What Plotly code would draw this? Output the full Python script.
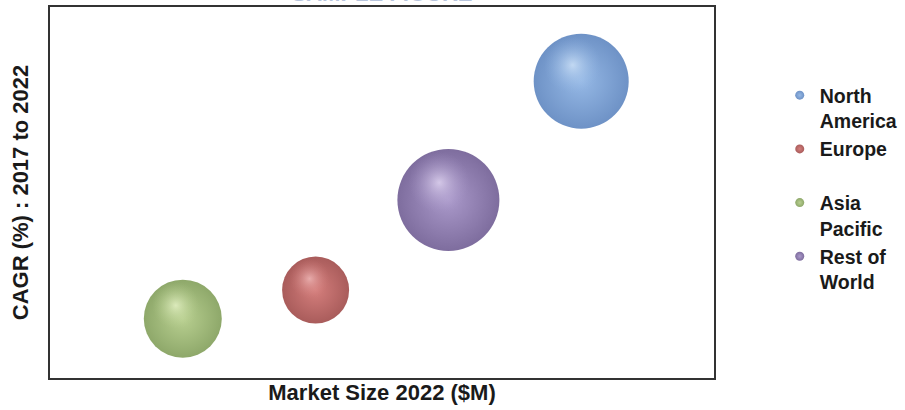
import plotly.graph_objects as go

# ---- data (axes carry no tick labels) ----
regions = ["North America", "Europe", "Asia Pacific", "Rest of World"]
legend_labels = ["<b>North<br>America</b>", "<b>Europe<br>\u00a0</b>",
                 "<b>Asia<br>Pacific</b>", "<b>Rest of<br>World</b>"]
market_size = [80, 40, 20, 60]          # x position (arbitrary units 0-100)
cagr = [80, 23.7, 16, 48]               # y position (arbitrary units 0-100)
bubble_size = [95, 67, 78, 102]         # bubble diameter (px)

# ---- styles ----
mid_colors = ["#95b8e5", "#d47e7c", "#b8cf90", "#aa99ca"]
edge_colors = ["#6e92c6", "#a95c5b", "#8ea86a", "#7e6d9e"]
hi_colors = ["rgba(224,240,255,0.95)", "rgba(252,206,206,0.9)",
             "rgba(245,255,216,0.95)", "rgba(242,232,255,0.95)"]
hi_fade = ["rgba(149,184,229,0)", "rgba(212,126,124,0)",
           "rgba(184,207,144,0)", "rgba(170,153,202,0)"]

X_RANGE = [0, 100]
Y_RANGE = [0, 100]
W, H = 905, 410
M = dict(l=50, r=191, t=7, b=32, autoexpand=False)
plot_w = W - M["l"] - M["r"]
plot_h = H - M["t"] - M["b"]

fig = go.Figure()

# sphere body
fig.add_trace(go.Scatter(
    x=market_size, y=cagr, mode="markers", showlegend=False,
    hoverinfo="text", text=regions,
    marker=dict(size=bubble_size, sizemode="diameter", color=edge_colors,
                gradient=dict(type="radial", color=mid_colors),
                line=dict(width=0), opacity=1),
))

# specular highlight, offset up-left in pixel terms
hx = [x - 0.09 * s * (X_RANGE[1] - X_RANGE[0]) / plot_w for x, s in zip(market_size, bubble_size)]
hy = [y + 0.17 * s * (Y_RANGE[1] - Y_RANGE[0]) / plot_h for y, s in zip(cagr, bubble_size)]
fig.add_trace(go.Scatter(
    x=hx, y=hy, mode="markers", showlegend=False, hoverinfo="skip",
    marker=dict(size=[0.6 * s for s in bubble_size], color=hi_fade,
                gradient=dict(type="radial", color=hi_colors),
                line=dict(width=0)),
))

# legend entries
for name, lab, mc, ec in zip(regions, legend_labels, mid_colors, edge_colors):
    fig.add_trace(go.Scatter(
        x=[None], y=[None], mode="markers", name=lab, legendgroup=name,
        marker=dict(size=9, color=ec, gradient=dict(type="radial", color=mc),
                    line=dict(width=0)),
    ))

font_family = "Arial, Liberation Sans, sans-serif"
fig.update_layout(
    width=W, height=H, margin=M,
    paper_bgcolor="white", plot_bgcolor="white",
    font=dict(family=font_family, color="#1a1a1a"),
    title=dict(text="<b>SAMPLE FIGURE</b>", x=(M["l"] + plot_w / 2) / W, xanchor="center",
               yref="container", y=1 - 1 / H, yanchor="bottom",
               font=dict(size=22, color="#b7c4dc", family=font_family)),
    xaxis=dict(range=X_RANGE, showgrid=False, zeroline=False, showticklabels=False,
               ticks="", showline=True, mirror=True, linecolor="#333333", linewidth=2,
               title=dict(text="<b>Market Size 2022 ($M)</b>", standoff=6,
                          font=dict(size=22, color="#1a1a1a"))),
    yaxis=dict(range=Y_RANGE, showgrid=False, zeroline=False, showticklabels=False,
               ticks="", showline=True, mirror=True, linecolor="#333333", linewidth=2,
               title=dict(text="\u00a0\u00a0\u00a0<b>CAGR (%) : 2017 to 2022</b>", standoff=13,
                          font=dict(size=22, color="#1a1a1a"))),
    legend=dict(x=1.099, xanchor="left", y=0.814, yanchor="top", valign="top",
                font=dict(size=19.5, color="#1a1a1a", family=font_family),
                bgcolor="rgba(0,0,0,0)", itemsizing="trace", tracegroupgap=0),
    showlegend=True,
)

fig.write_html("out.html", config={"displayModeBar": False},
               post_script="document.body.style.margin='0';")
